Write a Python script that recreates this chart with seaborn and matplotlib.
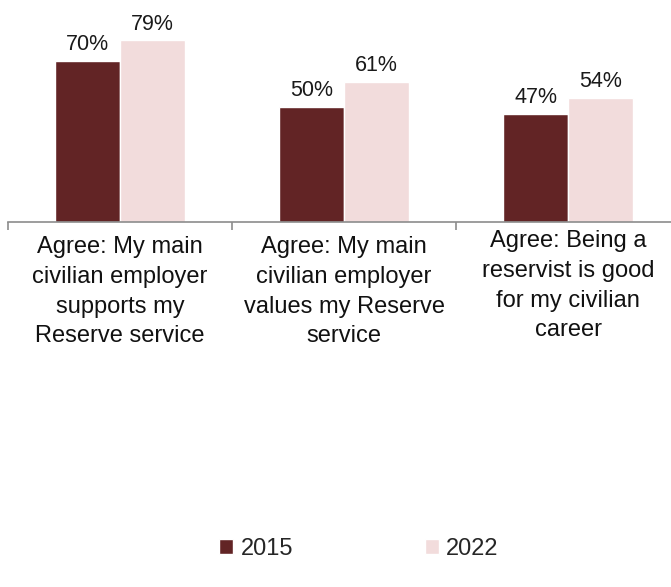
import matplotlib
matplotlib.use("Agg")
import matplotlib.pyplot as plt
import matplotlib.transforms as mtransforms
import seaborn as sns
import pandas as pd

categories = [
    "Agree: My main\ncivilian employer\nsupports my\nReserve service",
    "Agree: My main\ncivilian employer\nvalues my Reserve\nservice",
    "Agree: Being a\nreservist is good\nfor my civilian\ncareer",
]
years = ["2015", "2022"]
values_2015 = [70, 50, 47]
values_2022 = [79, 61, 54]

df = pd.DataFrame({
    "category": categories * 2,
    "year": [years[0]] * 3 + [years[1]] * 3,
    "value": values_2015 + values_2022,
})

sns.set_style("white")
plt.rcParams["font.family"] = ["Liberation Sans", "DejaVu Sans"]

fig = plt.figure(figsize=(6.71, 5.87), dpi=100)
ax = fig.add_axes([8 / 671, 1 - 222 / 587, 672 / 671, 222 / 587])

palette = {"2015": "#622425", "2022": "#F2DCDC"}
sns.barplot(data=df, x="category", y="value", hue="year", palette=palette,
            width=0.58, saturation=1, ax=ax, legend=True)

for container in ax.containers:
    ax.bar_label(container, labels=[f"{v:.0f}%" for v in container.datavalues],
                 fontsize=15.5, padding=4, color="#1a1a1a")

ax.set_xlim(-0.5, 2.5)
ax.set_ylim(0, 96.5)
ax.set_xlabel("")
ax.set_ylabel("")
ax.set_yticks([])

for s in ["top", "right", "left"]:
    ax.spines[s].set_visible(False)
ax.spines["bottom"].set_color("#8c8c8c")
ax.spines["bottom"].set_linewidth(1.2)

# tick marks sit on the category boundaries
ax.set_xticks([-0.5, 0.5, 1.5], minor=True)
ax.tick_params(axis="x", which="minor", bottom=True, length=6, width=1.2,
               color="#8c8c8c", direction="out")
ax.tick_params(axis="x", which="major", bottom=False, length=0, pad=10,
               labelsize=17, labelcolor="#111111")
for lbl in ax.get_xticklabels():
    lbl.set_linespacing(1.46)
last = ax.get_xticklabels()[2]
last.set_transform(last.get_transform() + mtransforms.ScaledTranslation(0, 6 / 100, fig.dpi_scale_trans))

ax.legend_.remove()
handles, labels = ax.get_legend_handles_labels()
fig.legend(handles, labels, loc="center", bbox_to_anchor=(359 / 671, 1 - 549 / 587),
           ncol=2, frameon=False, fontsize=17, handlelength=0.6, handleheight=0.6,
           handletextpad=0.3, columnspacing=5.6)

fig.savefig("out.png", dpi=100)
